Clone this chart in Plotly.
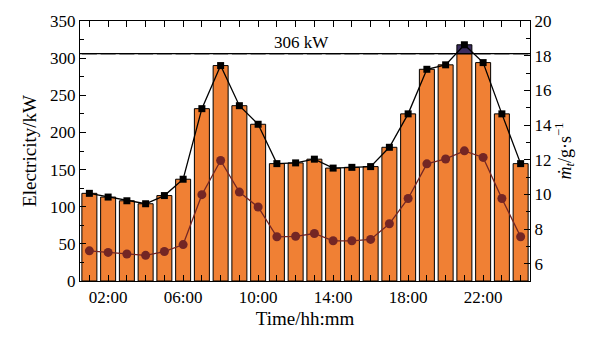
import plotly.graph_objects as go

hours = list(range(1, 25))
electricity = [118, 113, 108, 104, 115, 137, 232, 290, 236, 211, 158, 159,
               164, 152, 153, 154, 180, 225, 285, 291, 318, 294, 225, 158]
mass_flow = [6.74, 6.65, 6.56, 6.48, 6.70, 7.10, 9.98, 11.95, 10.13, 9.27, 7.55, 7.58,
             7.74, 7.32, 7.32, 7.40, 8.30, 9.76, 11.76, 12.04, 12.51, 12.13, 9.76, 7.55]
limit_kw = 306
xtick_vals = [2, 6, 10, 14, 18, 22]
xtick_text = ["02:00", "06:00", "10:00", "14:00", "18:00", "22:00"]

FONT = "Liberation Serif, Times New Roman, Times, serif"
base_part = [min(v, limit_kw) for v in electricity]
excess_part = [max(v - limit_kw, 0) for v in electricity]

fig = go.Figure()
fig.add_trace(go.Bar(x=hours, y=base_part, width=0.8,
                     marker=dict(color="#F08034", line=dict(color="black", width=1)),
                     showlegend=False))
fig.add_trace(go.Bar(x=hours, y=excess_part, base=[limit_kw] * 24, width=0.8,
                     marker=dict(color="#3B2C5E", line=dict(color="black", width=1)),
                     showlegend=False))
fig.add_trace(go.Scatter(x=hours, y=electricity, mode="lines+markers",
                         line=dict(color="black", width=1.3),
                         marker=dict(symbol="square", size=7, color="black"),
                         showlegend=False))
fig.add_trace(go.Scatter(x=hours, y=mass_flow, mode="lines+markers", yaxis="y2",
                         line=dict(color="#742624", width=1.3),
                         marker=dict(symbol="circle", size=9, color="#742624"),
                         showlegend=False))

fig.add_shape(type="line", xref="paper", x0=0, x1=1, yref="y", y0=limit_kw, y1=limit_kw,
              line=dict(color="black", width=1.3))
fig.add_annotation(x=12.3, y=limit_kw, xref="x", yref="y", text="306 kW",
                   showarrow=False, yanchor="bottom", yshift=0,
                   font=dict(family=FONT, size=17, color="black"))

axis_common = dict(showgrid=False, zeroline=False, showline=True, linecolor="black",
                   linewidth=1.3, ticks="inside", tickcolor="black", ticklen=6,
                   tickfont=dict(family=FONT, size=17, color="black"))

fig.update_layout(
    width=594, height=338,
    margin=dict(l=80, r=64, t=15, b=56),
    paper_bgcolor="white", plot_bgcolor="white",
    font=dict(family=FONT, color="black"),
    barmode="overlay",
    xaxis=dict(range=[0.5, 24.5], tickmode="array", tickvals=xtick_vals, ticktext=xtick_text,
               mirror="allticks",
               minor=dict(tickvals=hours, ticks="inside", ticklen=4, tickcolor="black"),
               title=dict(text="Time/hh:mm", font=dict(family=FONT, size=19, color="black"),
                          standoff=6),
               **axis_common),
    yaxis=dict(range=[0, 350], dtick=50, tick0=0,
               minor=dict(dtick=25, ticks="inside", ticklen=4, tickcolor="black"),
               title=dict(text="Electricity/kW", font=dict(family=FONT, size=19, color="black"),
                          standoff=8),
               **axis_common),
    yaxis2=dict(range=[5, 20], dtick=2, tick0=6, overlaying="y", side="right",
                minor=dict(dtick=1, tick0=5, ticks="inside", ticklen=4, tickcolor="black"),
                title=dict(text="<i>ṁ</i><sub><i>t</i></sub>/g·s<sup>−1</sup>",
                           font=dict(family=FONT, size=18, color="black"), standoff=6),
                **axis_common),
)

fig.write_html("out.html")
